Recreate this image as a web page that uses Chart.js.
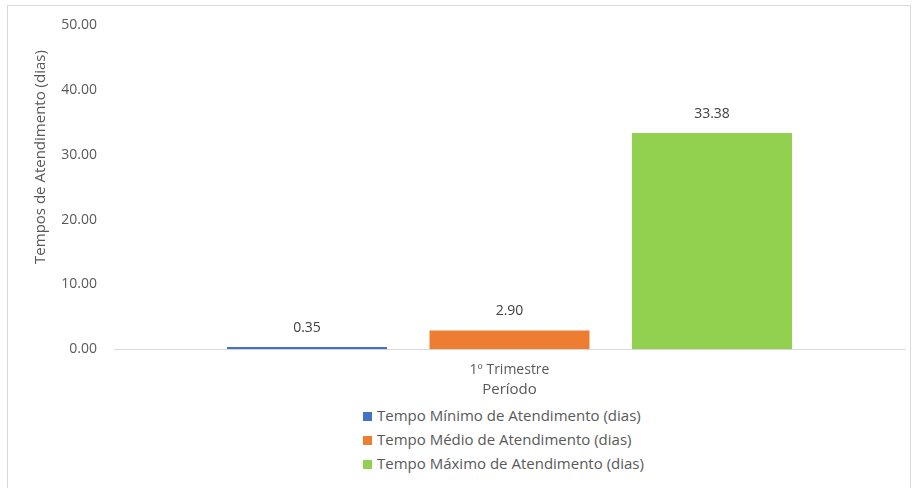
<!DOCTYPE html>
<html>
<head>
<meta charset="utf-8">
<script src="https://cdn.jsdelivr.net/npm/chart.js@4.4.1/dist/chart.umd.min.js"></script>
<style>
  html, body { margin: 0; padding: 0; background: #fff; }
  #frame { position: absolute; left: 7px; top: 5px; width: 904px; height: 520px; border: 1px solid #d9d9d9; box-sizing: border-box; }
  #wrap { position: absolute; left: 0; top: 0; width: 915px; height: 403px; }
  #legend { position: absolute; left: 363px; top: 405px; font-family: 'Open Sans', 'Noto Sans', sans-serif; font-size: 15px; color: #595959; }
  #legend div { height: 24px; line-height: 20px; white-space: nowrap; }
  #legend span { display: inline-block; width: 9px; height: 9px; margin-right: 5px; vertical-align: 0px; }
</style>
</head>
<body>
<div id="frame"></div>
<div id="wrap"><canvas id="chart" width="915" height="403"></canvas></div>
<div id="legend"></div>
<script>
const categories = ['1º Trimestre'];
const seriesNames = [
    'Tempo Mínimo de Atendimento (dias)',
    'Tempo Médio de Atendimento (dias)',
    'Tempo Máximo de Atendimento (dias)'
];
const minValues = [0.35];
const avgValues = [2.90];
const maxValues = [33.38];
const yTicks = [0, 10, 20, 30, 40, 50];
const colors = ['#4472C4', '#ED7D31', '#92D050'];

const textColor = '#595959';
const fontFamily = "'Open Sans', 'Noto Sans', sans-serif";

// value labels above each bar
const valueLabels = {
    id: 'valueLabels',
    afterDatasetsDraw(chart) {
        const ctx = chart.ctx;
        ctx.save();
        ctx.font = '14px ' + fontFamily;
        ctx.fillStyle = '#404040';
        ctx.textAlign = 'center';
        ctx.textBaseline = 'middle';
        chart.data.datasets.forEach((ds, i) => {
            chart.getDatasetMeta(i).data.forEach((bar, j) => {
                ctx.fillText(ds.data[j].toFixed(2), bar.x, bar.y - 19);
            });
        });
        ctx.restore();
    }
};

// y axis title, placed like the original
const yTitle = {
    id: 'yTitle',
    afterDraw(chart) {
        const ctx = chart.ctx;
        ctx.save();
        ctx.translate(41, 157);
        ctx.rotate(-Math.PI / 2);
        ctx.font = '15px ' + fontFamily;
        ctx.fillStyle = textColor;
        ctx.textAlign = 'center';
        ctx.textBaseline = 'middle';
        ctx.fillText('Tempos de Atendimento (dias)', 0, 0);
        ctx.restore();
    }
};

const datasets = [minValues, avgValues, maxValues].map((vals, i) => ({
    label: seriesNames[i],
    data: vals,
    backgroundColor: colors[i]
}));

const ctx = document.getElementById('chart').getContext('2d');
const chart = new Chart(ctx, {
    type: 'bar',
    data: { labels: categories, datasets: datasets },
    options: {
        responsive: false,
        animation: false,
        categoryPercentage: 0.768,
        barPercentage: 0.79,
        layout: { padding: { top: 18, right: 10, left: 0, bottom: 0 } },
        plugins: {
            legend: { display: false },
            tooltip: { enabled: false }
        },
        scales: {
            x: {
                grid: { display: false, drawTicks: false },
                border: { display: true, color: '#d9d9d9' },
                ticks: { color: textColor, font: { size: 14, family: fontFamily }, padding: 12 },
                title: {
                    display: true,
                    text: 'Período',
                    color: textColor,
                    font: { size: 15, family: fontFamily },
                    padding: { top: -9, bottom: 4 }
                }
            },
            y: {
                min: 0,
                max: 50,
                afterFit(scale) { scale.width = 114; },
                afterBuildTicks(scale) { scale.ticks = yTicks.map(v => ({ value: v })); },
                grid: { display: false, drawTicks: false },
                border: { display: false },
                ticks: {
                    color: textColor,
                    font: { size: 14, family: fontFamily },
                    padding: 17,
                    callback: v => v.toFixed(2)
                }
            }
        }
    },
    plugins: [valueLabels, yTitle]
});

// legend: one item per line, left aligned
const legendEl = document.getElementById('legend');
seriesNames.forEach((name, i) => {
    const row = document.createElement('div');
    const box = document.createElement('span');
    box.style.background = colors[i];
    row.appendChild(box);
    row.appendChild(document.createTextNode(name));
    legendEl.appendChild(row);
});
</script>
</body>
</html>
